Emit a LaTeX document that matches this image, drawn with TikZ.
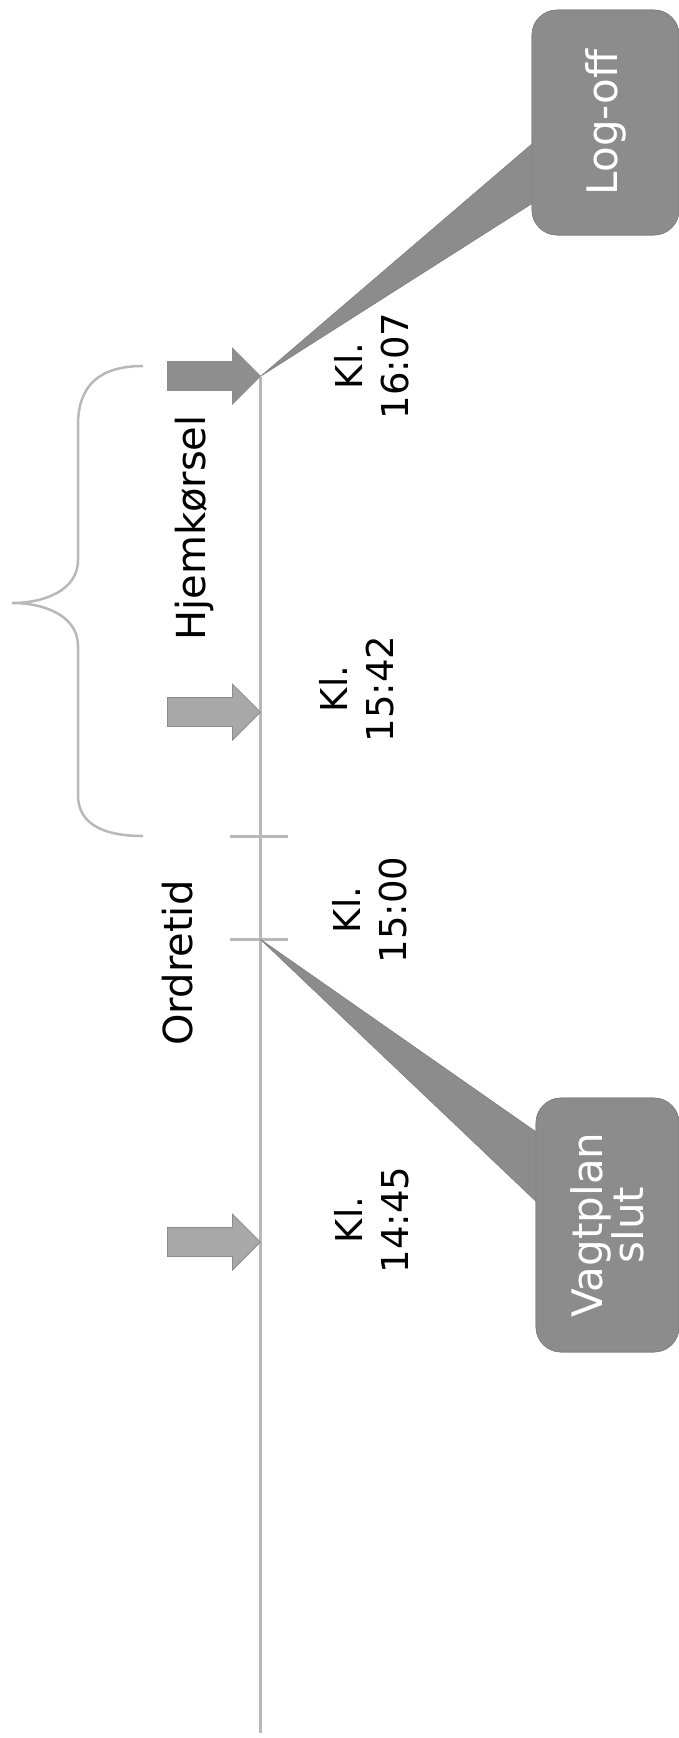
\documentclass[tikz,border=0pt]{standalone}
\usepackage{fontspec}
\setmainfont{DejaVu Sans}
\usetikzlibrary{shapes.arrows,positioning,calc}
\definecolor{linegray}{HTML}{B8B8B8}
\definecolor{arrowgray}{HTML}{A8A8A8}
\definecolor{darkarrow}{HTML}{8E8E8E}
\definecolor{boxgray}{HTML}{8C8C8C}
\tikzset{tline/.style={draw=linegray, line width=3pt},
evtarrow/.style={single arrow, draw=black!45, fill=arrowgray, line width=0.8pt,
  inner xsep=0pt, inner ysep=14pt, minimum height=93pt,
  single arrow head extend=13.5pt, anchor=tip},
klabel/.style={rotate=90, align=center, font=\fontsize{37}{46}\selectfont},
phase/.style={rotate=90, font=\fontsize{40}{48}\selectfont},
callout/.style={rotate=90, fill=boxgray, draw=black!50, line width=0.6pt,
  rounded corners=25pt, text=white, align=center,
  font=\fontsize{42}{40}\selectfont},
pointer/.style={fill=boxgray, draw=black!50, line width=0.6pt}}

\begin{document}
\begin{tikzpicture}[x=1pt,y=-1pt]
        \useasboundingbox (0,0) rectangle (679,1738);

        % timeline
        \coordinate (tstart) at (260,377);
        \coordinate (tend) at (260,1733);
        \coordinate (t1607) at (261,376);
        \coordinate (t1542) at (261,712);
        \coordinate (t1500) at (260,939);
        \coordinate (t1445) at (261,1242);
        \coordinate (tick) at (260,836);
        \draw[tline] (tstart) -- (tend);
        \draw[tline] ($(t1500)+(-30,0)$) -- ($(t1500)+(28,0)$);
        \draw[tline] ($(tick)+(-30,0)$) -- ($(tick)+(28,0)$);

        % arrows
        \node[evtarrow, fill=darkarrow] (a1607) at (t1607) {};
        \node[evtarrow] (a1542) at (t1542) {};
        \node[evtarrow] (a1445) at (t1445) {};

        \node[klabel] (k1607) at (372,366) {Kl.\\16:07};
        \node[klabel] (k1542) at (357,689) {Kl.\\15:42};
        \node[klabel] (k1500) at (370,910) {Kl.\\15:00};
        \node[klabel] (k1445) at (372,1220) {Kl.\\14:45};

        % brace
        \draw[linegray, line width=2.5pt] (143,366) .. controls (100,366) and (78,385) .. (78,425)
              -- (78,560) .. controls (78,590) and (45,603) .. (12,603)
              .. controls (45,603) and (78,616) .. (78,646)
              -- (78,795) .. controls (78,822) and (100,836) .. (143,836);

        \node[phase] (hjem) at (194,528) {Hjemkørsel};
        \node[phase] (ordre) at (178,963) {Ordretid};

        % callouts
        \node[callout, minimum width=225pt, minimum height=147pt] (logoff) at (605.5,122.5) {Log-off};
        \node[callout, minimum width=254pt, minimum height=143pt] (vagt) at (607.5,1225) {Vagtplan\\slut};
        \draw[pointer] (t1607) -- ($(logoff.north)+(2,20)$) -- ($(logoff.north)+(2,80)$) -- cycle;
        \draw[pointer] (t1500) -- ($(vagt.north)+(2,-92)$) -- ($(vagt.north)+(2,-22)$) -- cycle;
        \node[callout, minimum width=225pt, minimum height=147pt] at (logoff) {Log-off};
        \node[callout, minimum width=254pt, minimum height=143pt] at (vagt) {Vagtplan\\slut};
    \end{tikzpicture}
\end{document}
